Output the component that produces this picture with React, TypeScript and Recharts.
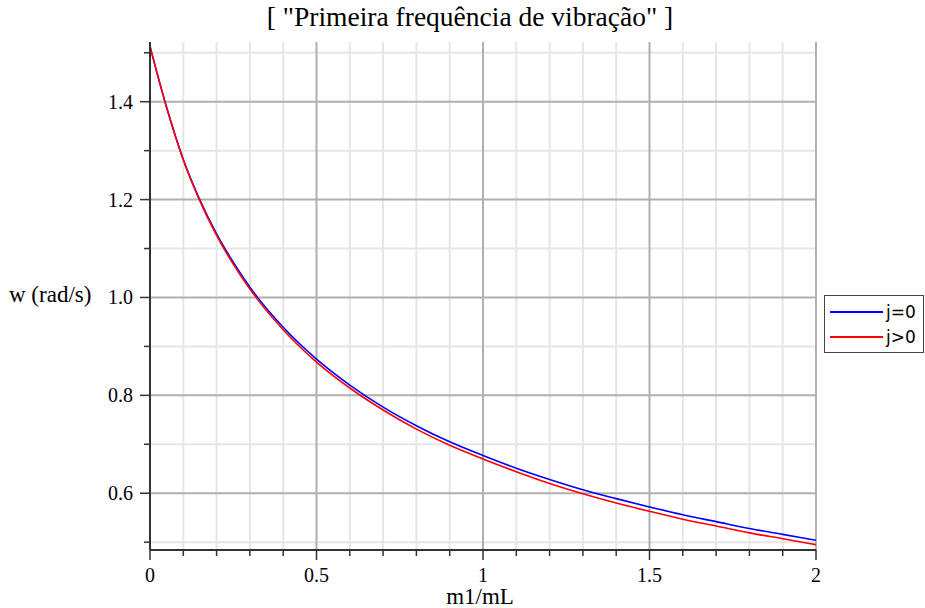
import { LineChart, Line, XAxis, YAxis, ReferenceLine } from "recharts";

const RATIO = [0, 0.05, 0.1, 0.15, 0.2, 0.25, 0.3, 0.4, 0.5, 0.6, 0.7, 0.8, 0.9, 1.0, 1.1, 1.2, 1.3, 1.4, 1.5, 1.6, 1.7, 1.8, 1.9, 2.0];
const W_J0 = [1.513, 1.388, 1.282, 1.199, 1.13, 1.072, 1.021, 0.939, 0.874, 0.821, 0.776, 0.738, 0.705, 0.677, 0.651, 0.628, 0.607, 0.589, 0.572, 0.556, 0.542, 0.528, 0.516, 0.504];
const W_JPOS = [1.513, 1.388, 1.281, 1.197, 1.127, 1.068, 1.017, 0.934, 0.868, 0.815, 0.77, 0.731, 0.698, 0.67, 0.644, 0.62, 0.599, 0.58, 0.563, 0.547, 0.533, 0.519, 0.507, 0.495];

const X_TICKS = [0, 0.1, 0.2, 0.3, 0.4, 0.5, 0.6, 0.7, 0.8, 0.9, 1, 1.1, 1.2, 1.3, 1.4, 1.5, 1.6, 1.7, 1.8, 1.9, 2];
const Y_TICKS = [0.5, 0.6, 0.7, 0.8, 0.9, 1.0, 1.1, 1.2, 1.3, 1.4, 1.5];
const X_MAJOR = [0.5, 1, 1.5, 2];
const Y_MAJOR = [0.6, 0.8, 1.0, 1.2, 1.4];

const SERIES = [
  { key: "j0", name: "j=0", color: "#0000ff" },
  { key: "jpos", name: "j>0", color: "#ff0000" },
];

const data = RATIO.map((r, i) => ({ r, j0: W_J0[i], jpos: W_JPOS[i] }));

const SERIF = "'Liberation Serif', 'Times New Roman', serif";
const AXIS = "#333";

const isMajorX = (v: number) => X_MAJOR.some((m) => Math.abs(m - v) < 1e-6);
const isMajorY = (v: number) => Y_MAJOR.some((m) => Math.abs(m - v) < 1e-6);

function XTick(props: any) {
  const { x, y, payload } = props;
  const v = payload.value as number;
  const major = isMajorX(v) || v === 0;
  return (
    <g>
      <line x1={x} x2={x} y1={y} y2={y + (major ? 10 : 6)} stroke={AXIS} strokeWidth={1.5} />
      {major && (
        <text x={x} y={y + 32} textAnchor="middle" fontFamily={SERIF} fontSize={20} fill="#000">
          {String(v)}
        </text>
      )}
    </g>
  );
}

function YTick(props: any) {
  const { x, y, payload } = props;
  const v = payload.value as number;
  const major = isMajorY(v);
  return (
    <g>
      <line x1={x} x2={x - (major ? 10 : 6)} y1={y} y2={y} stroke={AXIS} strokeWidth={1.5} />
      {major && (
        <text x={x - 17} y={y + 7} textAnchor="end" fontFamily={SERIF} fontSize={20} fill="#000">
          {v.toFixed(1)}
        </text>
      )}
    </g>
  );
}

function LegendBox() {
  return (
    <div
      style={{
        position: "absolute",
        left: 824,
        top: 295,
        width: 100,
        height: 58,
        border: "1.5px solid #444",
        background: "#fff",
        fontFamily: "'DejaVu Sans', sans-serif",
        fontSize: 17,
        boxSizing: "border-box",
      }}
    >
      {SERIES.map((s, i) => (
        <div key={s.key} style={{ position: "absolute", left: 5, top: 6 + i * 25, display: "flex", alignItems: "center" }}>
          <div style={{ width: 53, height: 2, background: s.color }} />
          <span style={{ marginLeft: 3, color: "#000", lineHeight: "20px" }}>{s.name}</span>
        </div>
      ))}
    </div>
  );
}

export default function App() {
  return (
    <div style={{ position: "absolute", left: 0, top: 0, width: 925, height: 608, background: "#fff" }}>
      <LineChart
        width={925}
        height={608}
        data={data}
        margin={{ top: 42, right: 109, left: 90, bottom: 28 }}
        style={{ position: "absolute", left: 0, top: 0 }}
      >
        {X_TICKS.filter((v) => v > 0 && !isMajorX(v)).map((v) => (
          <ReferenceLine key={"mx" + v} x={v} stroke="#e6e6e6" strokeWidth={2} />
        ))}
        {Y_TICKS.filter((v) => !isMajorY(v)).map((v) => (
          <ReferenceLine key={"my" + v} y={v} stroke="#e6e6e6" strokeWidth={2} />
        ))}
        {X_MAJOR.map((v) => (
          <ReferenceLine key={"Mx" + v} x={v} stroke="#b0b0b0" strokeWidth={2} />
        ))}
        {Y_MAJOR.map((v) => (
          <ReferenceLine key={"My" + v} y={v} stroke="#b0b0b0" strokeWidth={2} />
        ))}
        <XAxis
          dataKey="r"
          type="number"
          domain={[0, 2]}
          ticks={X_TICKS}
          interval={0}
          allowDataOverflow
          height={30}
          tickSize={0}
          tickMargin={0}
          tick={<XTick />}
          axisLine={{ stroke: AXIS, strokeWidth: 2 }}
          tickLine={false}
        />
        <YAxis
          type="number"
          domain={[0.484, 1.522]}
          ticks={Y_TICKS}
          interval={0}
          allowDataOverflow
          width={60}
          tickSize={0}
          tickMargin={0}
          tick={<YTick />}
          axisLine={{ stroke: AXIS, strokeWidth: 2 }}
          tickLine={false}
        />
        {SERIES.map((s) => (
          <Line
            key={s.key}
            dataKey={s.key}
            name={s.name}
            type="monotone"
            stroke={s.color}
            strokeWidth={1.6}
            dot={false}
            isAnimationActive={false}
          />
        ))}
      </LineChart>
      <div
        style={{
          position: "absolute",
          left: 120,
          width: 700,
          top: 1,
          textAlign: "center",
          fontFamily: SERIF,
          fontSize: 27.5,
          color: "#000",
          whiteSpace: "pre",
        }}
      >
        [ "Primeira frequência de vibração" ]
      </div>
      <div style={{ position: "absolute", left: 9, top: 282, fontFamily: SERIF, fontSize: 23, color: "#000", whiteSpace: "pre" }}>
        w (rad/s)
      </div>
      <div
        style={{
          position: "absolute",
          left: 380,
          width: 200,
          top: 587,
          height: 19,
          textAlign: "center",
          fontFamily: SERIF,
          fontSize: 23,
          lineHeight: "19px",
          color: "#000",
        }}
      >
        m1/mL
      </div>
      <LegendBox />
    </div>
  );
}
